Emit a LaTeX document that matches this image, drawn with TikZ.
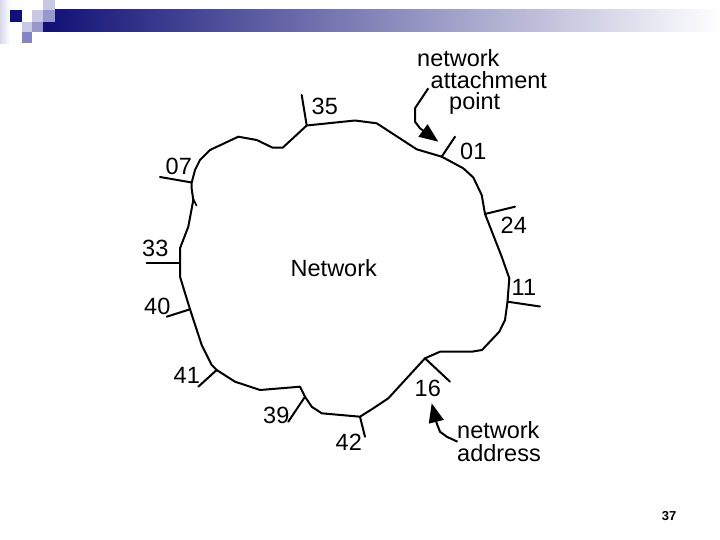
\documentclass[tikz,border=0pt]{standalone}
\usepackage{fontspec}
\setmainfont{Liberation Sans}
\usetikzlibrary{arrows.meta}
\definecolor{navy}{RGB}{16,16,118}
\definecolor{barmid}{RGB}{120,120,176}
\definecolor{sqA}{RGB}{200,200,228}
\definecolor{sqB}{RGB}{152,152,204}
\definecolor{sqC}{RGB}{132,132,196}
\tikzset{
  lbl/.style={anchor=base west,inner sep=0pt,font=\fontsize{23.5}{27}\selectfont},
  wire/.style={line width=2pt,line join=round,line cap=round},
  tick/.style={line width=2pt,line cap=round},
  pointer/.style={line width=2pt,line join=round,-{Triangle[length=19pt,width=15pt]}},
}
\begin{document}
\begin{tikzpicture}[x=1pt,y=-1pt]
\useasboundingbox (0,0) rectangle (720,540);
% title bar decoration
\shade[left color=navy,middle color=barmid,right color=white] (43,10) rectangle (720,32);
\shade[left color=sqA!70,right color=white] (0,0) rectangle (10,44);
\fill[navy] (10,10) rectangle (22,22);
\fill[sqA] (43,0) rectangle (55,10);
\fill[sqA] (32,10) rectangle (43,22);
\fill[sqB] (43,10) rectangle (55,22);
\fill[sqA] (22,22) rectangle (32,32);
\fill[sqB] (32,22) rectangle (43,32);
\fill[sqC] (22,32) rectangle (32,43);
% attachment points
\coordinate (p35) at (306.7,125.5);
\coordinate (p01) at (441.7,156.7);
\coordinate (p24) at (485,214);
\coordinate (p11) at (507.5,301.7);
\coordinate (p16) at (425,358.3);
\coordinate (p42) at (360,416.7);
\coordinate (p39) at (305,396.7);
\coordinate (p41) at (216.7,370);
\coordinate (p40) at (190,309.3);
\coordinate (p33) at (180,263.3);
\coordinate (p07) at (191.7,182.5);
% network outline
\draw[wire] (p35) -- (355,120.5) -- (376.7,123.3) -- (416.7,149.3) -- (p01)
  -- (463.3,168.3) -- (473.3,177.5) -- (481.7,195) -- (p24)
  -- (486.7,218.3) -- (501.7,256.7) -- (509.3,278.3) -- (p11)
  -- (505,320) -- (499.3,331.7) -- (482,350) -- (471.7,351.7) -- (440,351.7) -- (p16)
  -- (388.3,398.3) -- (373.3,408.3) -- (p42)
  -- (321.7,413.3) -- (311.7,406.7) -- (p39)
  -- (300,386.7) -- (260,390) -- (235,381.7) -- (p41)
  -- (211.7,365) -- (201.7,345) -- (p40)
  -- (180,276.7) -- (p33)
  -- (180,248.3) -- (188.3,226.7) -- (193.3,200) -- (191.7,189) -- (p07)
  -- (195,170) -- (200,160) -- (210,150) -- (238.3,136.7) -- (256.7,140)
  -- (272.7,147.7) -- (282.7,147.7) -- cycle;
\draw[line width=1.6pt] (193.3,199) -- (196.7,206);
% ticks
\coordinate (t35) at (301.7,95);
\coordinate (t01) at (455,136.7);
\coordinate (t24) at (515,206.7);
\coordinate (t11) at (540,306.5);
\coordinate (t16) at (450,381.7);
\coordinate (t42) at (365,436.7);
\coordinate (t39) at (288.3,421.7);
\coordinate (t41) at (198.3,386.7);
\coordinate (t40) at (166.7,316.7);
\coordinate (t33) at (146.7,263.3);
\coordinate (t07) at (160,177);
\foreach \n in {35,01,24,11,16,42,39,41,40,33,07}
  \draw[tick] (p\n) -- (t\n);
% labels
\node[lbl] (l35) at (311.5,115) {35};
\node[lbl] (l07) at (165.5,175) {07};
\node[lbl] (l01) at (460,160) {01};
\node[lbl] (l24) at (500.5,233.3) {24};
\node[lbl] (l11) at (511.5,295) {11};
\node[lbl] (l33) at (142,256.7) {33};
\node[lbl] (l40) at (144,314.3) {40};
\node[lbl] (l41) at (173.5,383.3) {41};
\node[lbl] (l39) at (263,423.3) {39};
\node[lbl] (l42) at (335.5,450) {42};
\node[lbl] (l16) at (414.5,396.7) {16};
\node[lbl] (net) at (290.5,276) {Network};
\node[lbl] (na1) at (417,66.7) {network};
\node[lbl] (na2) at (430.5,88.3) {attachment};
\node[lbl] (na3) at (449,110) {point};
\node[lbl] (ad1) at (457,438.3) {network};
\node[lbl] (ad2) at (457,461.7) {address};
% pointers
\coordinate (s1) at (428.3,88.3);
\coordinate (e1) at (438.3,141.7);
\draw[pointer] (s1) -- (415,108.3) -- (415,121.7) -- (420,128.3) -- (e1);
\coordinate (s2) at (457.5,441.7);
\coordinate (e2) at (431.7,403.3);
\draw[pointer] (s2) -- (446.7,436.7) -- (440,431.7) -- (436.7,423.3) -- (e2);
% page number
\node[inner sep=0pt,font=\fontsize{13}{15}\selectfont\bfseries] (pg) at (669,516) {37};
\end{tikzpicture}
\end{document}
